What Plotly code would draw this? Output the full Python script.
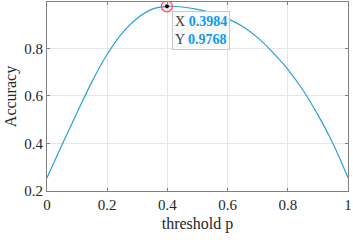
import plotly.graph_objects as go

# threshold p vs accuracy
threshold = [0, 0.05, 0.1, 0.15, 0.2, 0.25, 0.3, 0.35, 0.3984, 0.45, 0.5,
             0.55, 0.6, 0.65, 0.7, 0.75, 0.8, 0.85, 0.9, 0.95, 1.0]
accuracy = [0.256, 0.395, 0.53, 0.661, 0.775, 0.864, 0.927, 0.965, 0.9768, 0.974, 0.964,
            0.948, 0.925, 0.892, 0.845, 0.783, 0.712, 0.625, 0.52, 0.40, 0.256]
best_p = 0.3984
best_acc = 0.9768

x_ticks = [0, 0.2, 0.4, 0.6, 0.8, 1]
y_ticks = [0.2, 0.4, 0.6, 0.8]

font = "Liberation Serif, Times New Roman, serif"

fig = go.Figure()
fig.add_trace(go.Scatter(x=threshold, y=accuracy, mode="lines",
                         line=dict(color="#2a9fdb", width=1.2, shape="spline", smoothing=1),
                         hoverinfo="skip"))
# datatip highlight
fig.add_trace(go.Scatter(x=[best_p], y=[best_acc], mode="markers", hoverinfo="skip",
                         marker=dict(symbol="circle", size=11, color="rgba(255,80,80,0.12)",
                                     line=dict(color="#ff5050", width=1.2))))
fig.add_trace(go.Scatter(x=[best_p], y=[best_acc], mode="markers", hoverinfo="skip",
                         marker=dict(symbol="circle", size=4, color="black")))

fig.add_annotation(
    x=best_p, y=best_acc, xref="x", yref="y",
    xanchor="left", yanchor="top", xshift=5, yshift=-5,
    showarrow=False, align="left",
    text=("X <b><span style='color:#0a9bf0'>%.4f</span></b><br>"
          "Y <b><span style='color:#0a9bf0'>%.4f</span></b>") % (best_p, best_acc),
    font=dict(family=font, size=14, color="#404040"),
    bgcolor="rgba(250,250,250,0.95)", bordercolor="#c8c8c8", borderwidth=1, borderpad=2,
)

axis_common = dict(
    showgrid=True, gridcolor="#e6e6e6", gridwidth=1,
    showline=True, linecolor="#808080", linewidth=1, mirror="ticks",
    ticks="inside", ticklen=3, tickcolor="#808080",
    tickfont=dict(family=font, size=15, color="#262626"),
    zeroline=False, automargin=False,
)

fig.update_layout(
    width=353, height=240,
    margin=dict(l=47, r=5, t=2, b=49),
    paper_bgcolor="white", plot_bgcolor="white",
    showlegend=False,
    xaxis=dict(range=[0, 1], tickvals=x_ticks, ticktext=["0", "0.2", "0.4", "0.6", "0.8", "1"],
               title=dict(text="threshold p", font=dict(family=font, size=16, color="#262626"), standoff=5),
               **axis_common),
    yaxis=dict(range=[0.2, 0.995], tickvals=y_ticks, ticktext=["0.2", "0.4", "0.6", "0.8"],
               title=dict(text="Accuracy", font=dict(family=font, size=16, color="#262626"), standoff=3),
               **axis_common),
)

fig.write_html("out.html", config={"displayModeBar": False},
               post_script="document.body.style.margin='0px';")
